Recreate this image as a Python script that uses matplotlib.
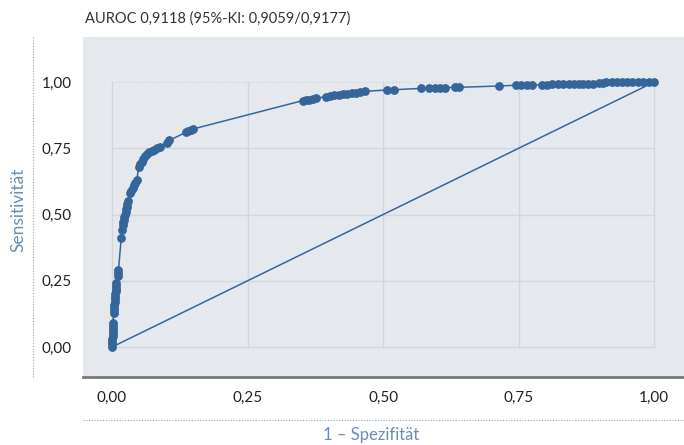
import matplotlib
matplotlib.use("Agg")
import matplotlib.pyplot as plt
from matplotlib.lines import Line2D

# ROC-Kurve: 1 - Spezifitaet (fpr) gegen Sensitivitaet (tpr)
fpr = [0.0, 0.0, 0.0, 0.0, 0.001, 0.001, 0.001, 0.001, 0.002, 0.002,
       0.003, 0.003, 0.004, 0.004, 0.005, 0.005, 0.006, 0.006, 0.007, 0.007, 0.008, 0.008,
       0.011, 0.012, 0.012,
       0.017,
       0.019, 0.020, 0.021, 0.022, 0.023, 0.024, 0.025, 0.026, 0.027, 0.028, 0.029,
       0.034, 0.036, 0.038, 0.040, 0.043, 0.046,
       0.049, 0.052, 0.055, 0.058, 0.061, 0.065, 0.069, 0.073, 0.078, 0.083, 0.088,
       0.102, 0.106,
       0.136, 0.141, 0.146, 0.150,
       0.352, 0.358, 0.364, 0.370, 0.376,
       0.394, 0.402, 0.410, 0.418, 0.426, 0.434, 0.442, 0.450, 0.458, 0.466,
       0.508, 0.520,
       0.570, 0.585, 0.595, 0.605, 0.615, 0.632, 0.640,
       0.713,
       0.745, 0.755, 0.765, 0.775,
       0.793,
       0.803, 0.812, 0.822, 0.832, 0.842,
       0.852, 0.862, 0.868,
       0.878, 0.888, 0.898, 0.905,
       0.912, 0.922, 0.932, 0.940, 0.950, 0.960, 0.970, 0.980, 0.990, 1.0]
tpr = [0.0, 0.01, 0.02, 0.03, 0.04, 0.05, 0.06, 0.07, 0.08, 0.09,
       0.13, 0.14, 0.15, 0.16, 0.17, 0.18, 0.19, 0.20, 0.21, 0.22, 0.23, 0.24,
       0.27, 0.28, 0.29,
       0.41,
       0.44, 0.46, 0.47, 0.48, 0.49, 0.50, 0.51, 0.52, 0.53, 0.54, 0.55,
       0.58, 0.59, 0.60, 0.61, 0.62, 0.63,
       0.68, 0.69, 0.70, 0.71, 0.72, 0.73, 0.735, 0.74, 0.745, 0.75, 0.755,
       0.77, 0.78,
       0.81, 0.815, 0.82, 0.823,
       0.930, 0.932, 0.934, 0.936, 0.938,
       0.945, 0.948, 0.950, 0.952, 0.954, 0.956, 0.958, 0.960, 0.962, 0.965,
       0.970, 0.971,
       0.976, 0.977, 0.978, 0.978, 0.979, 0.980, 0.980,
       0.985,
       0.988, 0.988, 0.989, 0.989,
       0.990,
       0.990, 0.991, 0.991, 0.992, 0.992,
       0.992, 0.993, 0.993,
       0.993, 0.994, 0.996, 0.998,
       1.0, 1.0, 1.0, 1.0, 1.0, 1.0, 1.0, 1.0, 1.0, 1.0]

ticks = [0.0, 0.25, 0.5, 0.75, 1.0]
tick_labels = ["0,00", "0,25", "0,50", "0,75", "1,00"]
title = "AUROC 0,9118 (95%-KI: 0,9059/0,9177)"

blue = "#35669b"
grid_c = "#d3d6db"
plt.rcParams["font.family"] = ["Lato", "DejaVu Sans"]

fig = plt.figure(figsize=(6.84, 4.45), dpi=100)
ax = fig.add_axes([0.1213, 0.1528, 0.8787, 0.7641])
ax.set_facecolor("#e5e8ed")
ax.set_xlim(-0.0535, 1.055)
ax.set_ylim(-0.113, 1.17)

# Raster nur im Bereich 0..1
for t in ticks:
    ax.plot([t, t], [0, 1], color=grid_c, lw=1, zorder=1)
for t in ticks[:-1]:
    ax.plot([0, 1], [t, t], color=grid_c, lw=1, zorder=1)
ax.plot([0, 1], [1, 1], color="#c9ccd1", lw=0.8, ls=(0, (1, 2)), zorder=1)

ax.plot([0, 1], [0, 1], color=blue, lw=1.1, zorder=2)
ax.plot(fpr, tpr, color=blue, lw=1.1, marker="o", ms=5.3, mec=blue, mfc=blue, zorder=3)

ax.set_xticks(ticks)
ax.set_xticklabels(tick_labels)
ax.set_yticks(ticks)
ax.set_yticklabels(tick_labels)
ax.tick_params(axis="both", length=0, labelsize=11, labelcolor="#222222")
ax.tick_params(axis="x", pad=10)
ax.tick_params(axis="y", pad=8)
for s in ["top", "right", "left"]:
    ax.spines[s].set_visible(False)
ax.spines["bottom"].set_color("#7a7a7a")
ax.spines["bottom"].set_linewidth(2)

fig.text(85 / 684, 1 - 19 / 445, title, fontsize=10.5, color="#333333",
         va="center", ha="left")
fig.text(18 / 684, 1 - 210 / 445, "Sensitivität", fontsize=12.5,
         color="#6a8cb8", rotation=90, va="center", ha="center")
fig.text(371 / 684, 1 - 435 / 445, "1 – Spezifität", fontsize=12,
         color="#6a8cb8", va="center", ha="center")

dot = "#8aa6c8"
fig.add_artist(Line2D([33 / 684, 33 / 684], [1 - 37 / 445, 1 - 377 / 445],
                      color=dot, lw=0.8, ls=(0, (1, 1.5))))
fig.add_artist(Line2D([83 / 684, 1.0], [1 - 420 / 445, 1 - 420 / 445],
                      color=dot, lw=0.8, ls=(0, (1, 1.5))))

fig.savefig("out.png", dpi=100)
